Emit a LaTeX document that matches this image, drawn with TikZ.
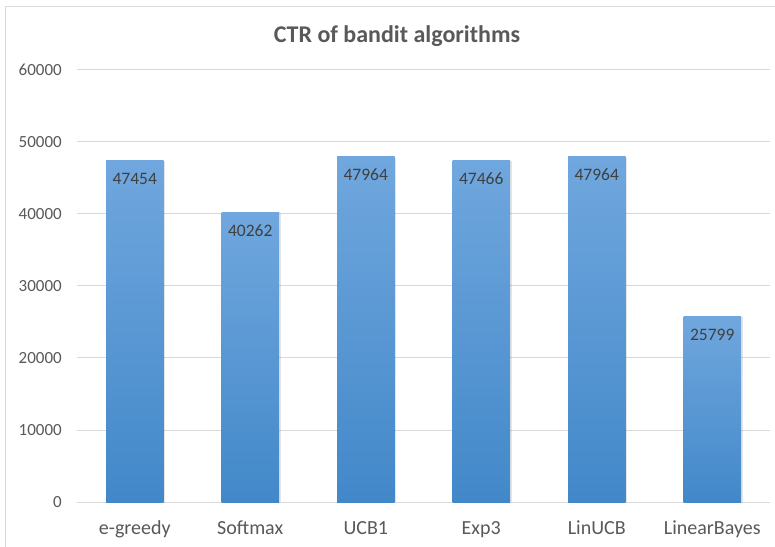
\documentclass[tikz,border=0pt]{standalone}
\usepackage{fontspec}
\setmainfont{Carlito}
\usepackage{xcolor}
\usepackage{tikz}
\definecolor{gridgray}{RGB}{217,217,217}
\definecolor{labelgray}{RGB}{89,89,89}
\definecolor{valuegray}{RGB}{64,64,64}
\definecolor{bartopblue}{RGB}{112,167,222}
\definecolor{barbotblue}{RGB}{66,136,201}
\tikzset{
  chartframe/.style={draw=gridgray, line width=1pt},
  gridline/.style={draw=gridgray, line width=1pt},
  bar/.style={top color=bartopblue, bottom color=barbotblue},
  barshadow/.style={fill=black, opacity=0.10},
  charttitle/.style={text=labelgray, font=\fontsize{24}{26}\selectfont\bfseries},
  ticklabel/.style={anchor=base east, text=labelgray, inner sep=0pt,
                    font=\fontsize{17}{20}\selectfont},
  catlabel/.style={anchor=base, text=labelgray, inner sep=0pt,
                   font=\fontsize{20}{22}\selectfont},
  valuelabel/.style={anchor=base, text=valuegray, inner sep=0pt,
                     font=\fontsize{17.5}{20}\selectfont},
}
\begin{document}
\begin{tikzpicture}[x=1pt, y=1pt]
  \useasboundingbox (0,0) rectangle (775,546);
  \clip (0,0) rectangle (775,546);
  \fill[white] (0,0) rectangle (775,546);
  \draw[chartframe] (5.5,-10) rectangle (785,539);

  \node[charttitle] (title) at (397,510) {CTR of bandit algorithms};

  % value axis: one gridline every 10000 (72pt)
  \foreach \v [count=\k from 0] in {0,10000,20000,30000,40000,50000,60000} {
    \draw[gridline] (77,44+\k*72) -- (770,44+\k*72);
    \node[ticklabel] (tick\k) at (62,38.5+\k*72) {\v};
  }

  % bars, with value inside the top and category below
  % (height in tenths of pt via \numexpr, the values are too big for pgfmath)
  \foreach \name/\val [count=\i] in {e-greedy/47454, Softmax/40262, UCB1/47964,
      Exp3/47466, LinUCB/47964, LinearBayes/25799} {
    \pgfmathsetmacro{\cx}{77+(\i-0.5)*115.5}
    \edef\barh{\the\numexpr 440+\val*72/1000\relax}
    \pgfmathsetmacro{\barh}{\barh/10}
    \fill[barshadow] (\cx-27,44) rectangle (\cx+30.5,\barh-1);
    \shade[bar] (\cx-28.75,44) rectangle (\cx+28.75,\barh);
    \node[valuelabel] (val\i) at (\cx,\barh-24) {\val};
    \node[catlabel] (cat\i) at (\cx,12) {\name};
  }
\end{tikzpicture}
\end{document}
